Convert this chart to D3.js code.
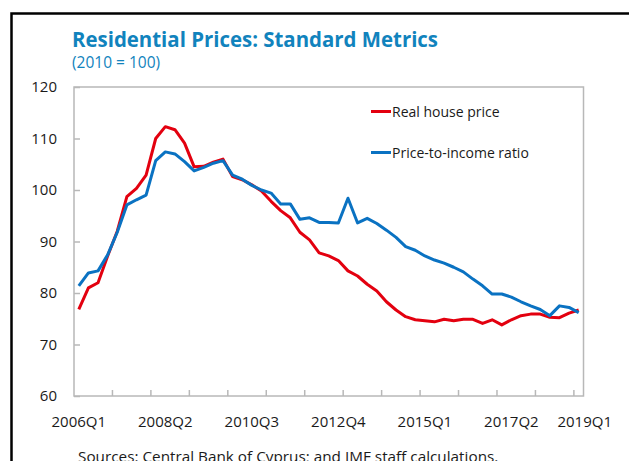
<!DOCTYPE html>
<html>
<head>
<meta charset="utf-8">
<script src="https://cdn.jsdelivr.net/npm/d3@7"></script>
<style>
  body { margin: 0; background: #fff; }
  svg { display: block; font-family: "Open Sans", "Noto Sans", sans-serif; }
</style>
</head>
<body>
<script>
// quarterly categories, 2006Q1 - 2019Q1
var quarters = ["2006Q1","2006Q2","2006Q3","2006Q4","2007Q1","2007Q2","2007Q3","2007Q4",
  "2008Q1","2008Q2","2008Q3","2008Q4","2009Q1","2009Q2","2009Q3","2009Q4",
  "2010Q1","2010Q2","2010Q3","2010Q4","2011Q1","2011Q2","2011Q3","2011Q4",
  "2012Q1","2012Q2","2012Q3","2012Q4","2013Q1","2013Q2","2013Q3","2013Q4",
  "2014Q1","2014Q2","2014Q3","2014Q4","2015Q1","2015Q2","2015Q3","2015Q4",
  "2016Q1","2016Q2","2016Q3","2016Q4","2017Q1","2017Q2","2017Q3","2017Q4",
  "2018Q1","2018Q2","2018Q3","2018Q4","2019Q1"];

var realHousePrice = [76.8,81.0,82.0,87.2,92.0,98.7,100.3,102.9,110.0,112.3,111.7,109.1,
  104.5,104.6,105.4,106.0,102.6,102.0,101.0,99.8,97.8,96.0,94.6,91.8,
  90.3,87.8,87.2,86.3,84.3,83.3,81.7,80.4,78.3,76.7,75.4,74.8,
  74.6,74.4,74.9,74.6,74.9,74.9,74.1,74.8,73.8,74.8,75.6,75.9,
  75.9,75.3,75.2,76.1,76.7];

var priceToIncome = [81.4,83.9,84.3,87.4,91.8,97.1,98.1,99.0,105.7,107.4,107.0,105.5,
  103.7,104.4,105.2,105.7,102.9,102.1,100.9,100.0,99.4,97.3,97.3,94.3,
  94.6,93.7,93.7,93.6,98.4,93.6,94.5,93.5,92.2,90.8,89.0,88.3,
  87.2,86.4,85.8,85.0,84.1,82.7,81.4,79.8,79.8,79.2,78.3,77.5,
  76.8,75.6,77.5,77.2,76.2];

var seriesNames = ["Real house price","Price-to-income ratio"];
var seriesColors = ["#e3000f","#0a72c2"];
var xTickLabels = ["2006Q1","2008Q2","2010Q3","2012Q4","2015Q1","2017Q2","2019Q1"];
var yTicks = [60,70,80,90,100,110,120];

var W = 629, H = 461;
var plotL = 74, plotR = 583.5, plotT = 87, plotB = 396;

var svg = d3.select("body").append("svg").attr("width", W).attr("height", H);

// outer frame
svg.append("rect")
  .attr("x", 11.5).attr("y", 13.5)
  .attr("width", 700).attr("height", 600)
  .attr("fill", "none").attr("stroke", "#000").attr("stroke-width", 2.5);

// titles
svg.append("text")
  .attr("x", 72).attr("y", 47)
  .attr("fill", "#1183bd")
  .attr("font-weight", "bold")
  .attr("font-size", 21)
  .attr("textLength", 366).attr("lengthAdjust", "spacingAndGlyphs")
  .text("Residential Prices: Standard Metrics");

svg.append("text")
  .attr("x", 72).attr("y", 68)
  .attr("fill", "#1183bd")
  .attr("font-size", 15.5)
  .text("(2010 = 100)");

var x = d3.scaleBand().domain(quarters).range([plotL, plotR]).padding(0);
var y = d3.scaleLinear().domain([60, 120]).range([plotB, plotT]);
var xc = function(q) { return x(q) + x.bandwidth() / 2; };

// plot frame
svg.append("rect")
  .attr("x", plotL).attr("y", plotT)
  .attr("width", plotR - plotL).attr("height", plotB - plotT)
  .attr("fill", "none").attr("stroke", "#b8b8b8").attr("stroke-width", 1.5);

// y axis (ticks point inward)
var yAxis = svg.append("g")
  .attr("transform", "translate(" + plotL + ",0)")
  .call(d3.axisLeft(y).tickValues(yTicks).tickSizeInner(-6).tickSizeOuter(0).tickPadding(17));
yAxis.select(".domain").remove();
yAxis.selectAll("line").attr("stroke", "#b8b8b8").attr("stroke-width", 1.5);
yAxis.selectAll("text").attr("font-size", 15).attr("fill", "#1a1a1a");
yAxis.attr("font-family", null).attr("font-size", null);

// x tick marks at yearly category boundaries
var tickQuarters = quarters.filter(function(d, i) { return i % 4 === 0 && i > 0; });
svg.append("g").selectAll("line")
  .data(tickQuarters).enter().append("line")
  .attr("x1", function(d) { return x(d); })
  .attr("x2", function(d) { return x(d); })
  .attr("y1", plotB).attr("y2", plotB - 6)
  .attr("stroke", "#b8b8b8").attr("stroke-width", 1.5);

// x labels
svg.append("g").selectAll("text")
  .data(xTickLabels).enter().append("text")
  .attr("x", function(d) { return xc(d); })
  .attr("dx", function(d, i) { return i === xTickLabels.length - 1 ? 6 : 0; })
  .attr("y", 427)
  .attr("text-anchor", "middle")
  .attr("font-size", 15)
  .attr("fill", "#1a1a1a")
  .text(function(d) { return d; });

// lines
var line = d3.line()
  .x(function(d, i) { return xc(quarters[i]); })
  .y(function(d) { return y(d); });

[realHousePrice, priceToIncome].forEach(function(s, k) {
  svg.append("path")
    .datum(s)
    .attr("d", line)
    .attr("fill", "none")
    .attr("stroke", seriesColors[k])
    .attr("stroke-width", 3)
    .attr("stroke-linejoin", "round");
});

// legend
var legend = svg.append("g").selectAll("g")
  .data(seriesNames).enter().append("g")
  .attr("transform", function(d, i) { return "translate(371," + (111.5 + i * 41) + ")"; });
legend.append("line")
  .attr("x1", 0).attr("x2", 20)
  .attr("stroke", function(d, i) { return seriesColors[i]; })
  .attr("stroke-width", 3);
legend.append("text")
  .attr("x", 21).attr("y", 5)
  .attr("font-size", 14)
  .attr("fill", "#1a1a1a")
  .text(function(d) { return d; });

// source note
svg.append("text")
  .attr("x", 78).attr("y", 462)
  .attr("font-size", 15.3)
  .attr("fill", "#1a1a1a")
  .text("Sources: Central Bank of Cyprus; and IMF staff calculations.");
</script>
</body>
</html>
